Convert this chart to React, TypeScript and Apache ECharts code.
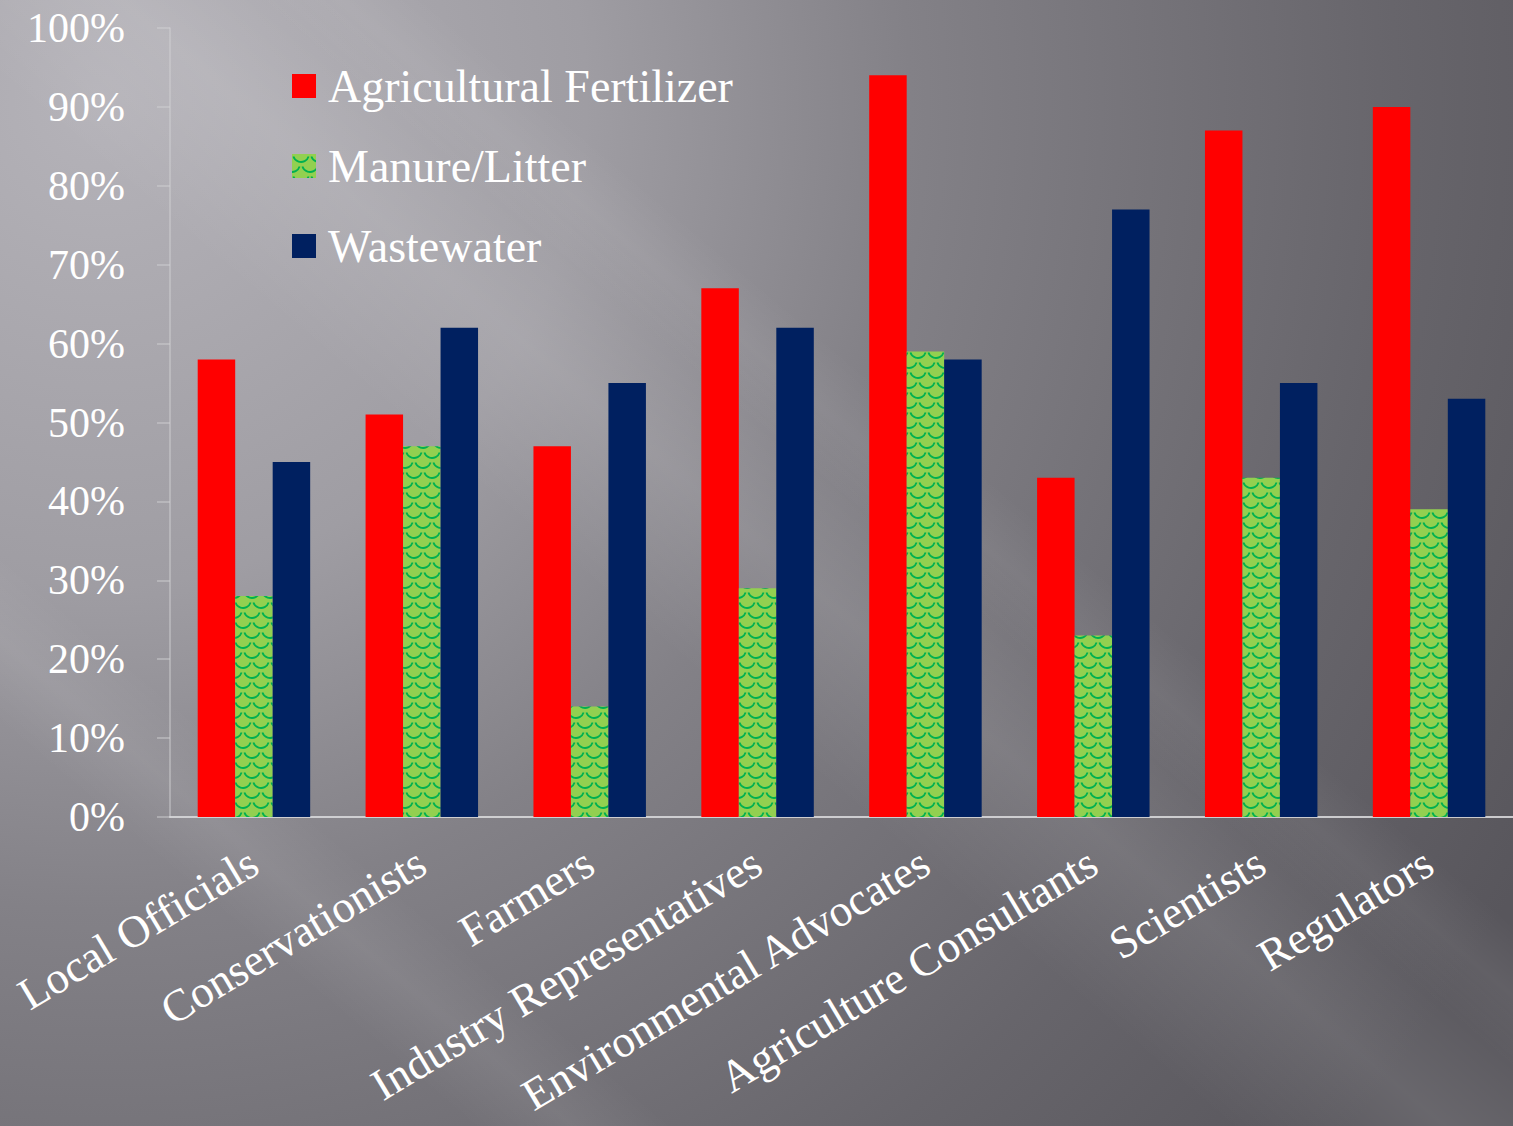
import React, { useEffect, useRef } from "react";
import * as echarts from "echarts";

const categories = [
  "Local Officials",
  "Conservationists",
  "Farmers",
  "Industry Representatives",
  "Environmental Advocates",
  "Agriculture Consultants",
  "Scientists",
  "Regulators",
];
const seriesNames = ["Agricultural Fertilizer", "Manure/Litter", "Wastewater"];
const fertilizer = [58, 51, 47, 67, 94, 43, 87, 90];
const manure = [28, 47, 14, 29, 59, 23, 43, 39];
const wastewater = [45, 62, 55, 62, 58, 77, 55, 53];

const W = 1513;
const H = 1126;
const FONT = "'Liberation Serif', 'DejaVu Serif', serif";

function makePattern(): HTMLCanvasElement {
  const tw = 18;
  const th = 20;
  const c = document.createElement("canvas");
  c.width = tw;
  c.height = th;
  const ctx = c.getContext("2d")!;
  ctx.fillStyle = "#92d050";
  ctx.fillRect(0, 0, tw, th);
  ctx.strokeStyle = "#00b050";
  ctx.lineWidth = 1.8;
  const r = tw / 2;
  const arcs = [
    [tw / 2, 0],
    [0, th / 2],
    [tw, th / 2],
    [tw / 2, th],
  ];
  for (const [cx, cy] of arcs) {
    ctx.beginPath();
    ctx.arc(cx, cy, r - 1, 0.1 * Math.PI, 0.9 * Math.PI);
    ctx.stroke();
  }
  return c;
}

function band(px: number, py: number, w: number, alpha: number, slope: number) {
  const dl = Math.hypot(1, slope);
  const dx = 1 / dl;
  const dy = slope / dl;
  const nx = slope / dl;
  const ny = -1 / dl;
  const L = 2600;
  const hw = w / 2;
  const pts = [
    [px - L * dx + hw * nx, py - L * dy + hw * ny],
    [px + L * dx + hw * nx, py + L * dy + hw * ny],
    [px + L * dx - hw * nx, py + L * dy - hw * ny],
    [px - L * dx - hw * nx, py - L * dy - hw * ny],
  ];
  return {
    type: "polygon",
    z: -50,
    silent: true,
    shape: { points: pts },
    style: {
      fill: new echarts.graphic.LinearGradient(
        px + hw * nx,
        py + hw * ny,
        px - hw * nx,
        py - hw * ny,
        [
          { offset: 0, color: "rgba(255,255,255,0)" },
          { offset: 0.5, color: `rgba(255,255,255,${alpha})` },
          { offset: 1, color: "rgba(255,255,255,0)" },
        ],
        true
      ),
    },
  };
}

export default function App() {
  const ref = useRef<HTMLDivElement>(null);
  useEffect(() => {
    document.body.style.margin = "0";
    if (!ref.current) return;
    const chart = echarts.init(ref.current, null, { renderer: "svg" });
    const pattern = makePattern();
    const greenFill: any = {
      image: pattern,
      repeat: "repeat",
      imageWidth: pattern.width,
      imageHeight: pattern.height,
    };
    const barCommon = {
      type: "bar",
      barGap: "0%",
      barCategoryGap: "33%",
    };
    chart.setOption({
      animation: false,
      graphic: [
        {
          type: "rect",
          z: -100,
          silent: true,
          shape: { x: 0, y: 0, width: W, height: H },
          style: {
            fill: new echarts.graphic.RadialGradient(
              100,
              100,
              1620,
              [
                { offset: 0, color: "#b5b3b9" },
                { offset: 0.3, color: "#9f9da3" },
                { offset: 0.5, color: "#838187" },
                { offset: 0.8, color: "#67656b" },
                { offset: 1, color: "#58565c" },
              ],
              true
            ),
          },
        },
        band(650, 450, 280, 0.1, 0.85),
        band(260, 860, 130, 0.07, 0.85),
        band(1000, 560, 110, 0.06, 0.85),
      ],
      legend: {
        orient: "vertical",
        left: 292,
        top: 63,
        padding: 0,
        itemWidth: 24,
        itemHeight: 24,
        itemGap: 34,
        icon: "rect",
        data: seriesNames,
        textStyle: {
          color: "#ffffff",
          fontFamily: FONT,
          fontSize: 46,
          padding: [0, 0, 0, 7],
        },
      },
      grid: {
        left: 170,
        top: 28,
        width: 1346,
        height: 789,
        containLabel: false,
      },
      xAxis: {
        type: "category",
        data: categories,
        axisLine: { lineStyle: { color: "rgba(215,215,217,0.9)", width: 2 } },
        axisTick: { length: 13, lineStyle: { color: "rgba(215,215,217,0.9)", width: 2 } },
        axisLabel: {
          rotate: 31,
          interval: 0,
          margin: 42,
          color: "#ffffff",
          fontFamily: FONT,
          fontSize: 45,
        },
      },
      yAxis: {
        type: "value",
        min: 0,
        max: 100,
        interval: 10,
        axisLine: { show: true, lineStyle: { color: "rgba(210,210,212,0.6)", width: 1.5 } },
        axisTick: { show: true, length: 13, lineStyle: { color: "rgba(210,210,212,0.6)", width: 1.5 } },
        splitLine: { show: false },
        axisLabel: {
          margin: 45,
          color: "#ffffff",
          fontFamily: FONT,
          fontSize: 42,
          formatter: "{value}%",
        },
      },
      series: [
        { ...barCommon, name: seriesNames[0], data: fertilizer, itemStyle: { color: "#ff0000" } },
        { ...barCommon, name: seriesNames[1], data: manure, itemStyle: { color: greenFill } },
        { ...barCommon, name: seriesNames[2], data: wastewater, itemStyle: { color: "#002060" } },
      ],
    });
    return () => chart.dispose();
  }, []);
  return <div ref={ref} style={{ width: W, height: H }} />;
}
